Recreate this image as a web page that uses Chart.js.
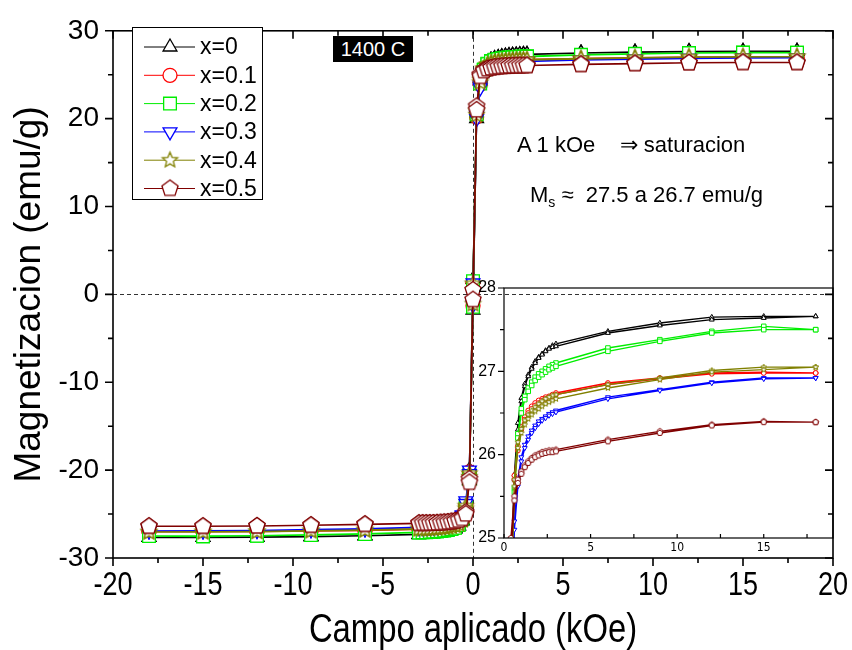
<!DOCTYPE html>
<html>
<head>
<meta charset="utf-8">
<script src="https://cdn.jsdelivr.net/npm/chart.js@4.4.0/dist/chart.umd.min.js"></script>
<style>
  body { margin: 0; background: #fff; }
  #wrap { position: relative; width: 852px; height: 650px; font-family: 'Liberation Sans', Arial, sans-serif; }
  #main { position: absolute; left: 0; top: 0; }
  #inset { position: absolute; left: 450px; top: 270px; }
  .tag { position: absolute; left: 333px; top: 36px; width: 80px; height: 26px; background: #000; color: #fff;
         font-size: 20px; line-height: 26px; text-align: center; }
  .note { position: absolute; font-size: 22px; line-height: 26px; color: #000; white-space: nowrap; }
  .note sub { font-size: 14px; }
</style>
</head>
<body>
<div id="wrap">
  <canvas id="main" width="852" height="650"></canvas>
  <canvas id="inset" width="402" height="290"></canvas>
  <div class="tag">1400 C</div>
  <div class="note" style="left:517px; top:132px;">A 1 kOe &nbsp;&nbsp; ⇒ saturacion</div>
  <div class="note" style="left:530px; top:182px;">M<sub>s</sub> ≈ &nbsp;27.5 a 26.7 emu/g</div>
</div>
<script>
// field values (kOe), descending branch 18 -> -18 and ascending branch -18 -> 18
const fieldDown = [18, 15, 12, 9, 6, 3, 2.8, 2.6, 2.4, 2.2, 2, 1.8, 1.6, 1.4, 1.2, 1, 0.8, 0.6, 0.4, 0.2, 0,
  -0.2, -0.4, -0.6, -0.8, -1, -1.2, -1.4, -1.6, -1.8, -2, -2.2, -2.4, -2.6, -2.8, -3, -6, -9, -12, -15, -18];
const fieldUp = [-18, -15, -12, -9, -6, -3, -2.8, -2.6, -2.4, -2.2, -2, -1.8, -1.6, -1.4, -1.2, -1, -0.8, -0.6, -0.4, -0.2, 0,
  0.2, 0.4, 0.6, 0.8, 1, 1.2, 1.4, 1.6, 1.8, 2, 2.2, 2.4, 2.6, 2.8, 3, 6, 9, 12, 15, 18];

const seriesNames = ['x=0', 'x=0.1', 'x=0.2', 'x=0.3', 'x=0.4', 'x=0.5'];

// magnetization (emu/g)
const downX0 = [27.66, 27.66, 27.65, 27.58, 27.48, 27.33, 27.31, 27.28, 27.25, 27.21, 27.17, 27.12, 27.05, 26.96, 26.85, 26.68, 26.38, 25.76, 24.6, 21.2, 1.7,
  -20.0, -24.3, -25.70, -26.30, -26.64, -26.82, -26.94, -27.03, -27.10, -27.16, -27.20, -27.24, -27.27, -27.29, -27.30, -27.46, -27.55, -27.62, -27.64, -27.66];
const upX0 = [-27.66, -27.66, -27.65, -27.58, -27.48, -27.33, -27.31, -27.28, -27.25, -27.21, -27.17, -27.12, -27.05, -26.96, -26.85, -26.68, -26.38, -25.76, -24.6, -21.2, -1.8,
  20.0, 24.3, 25.70, 26.30, 26.64, 26.82, 26.94, 27.03, 27.10, 27.16, 27.20, 27.24, 27.27, 27.29, 27.30, 27.46, 27.55, 27.62, 27.64, 27.66];

const downX01 = [26.98, 26.99, 26.98, 26.92, 26.86, 26.74, 26.72, 26.70, 26.69, 26.67, 26.65, 26.62, 26.58, 26.53, 26.45, 26.33, 26.10, 25.75, 24.2, 20.6, 1.4,
  -20.2, -23.9, -25.70, -26.05, -26.30, -26.42, -26.50, -26.55, -26.59, -26.62, -26.65, -26.67, -26.68, -26.70, -26.72, -26.84, -26.91, -26.97, -26.98, -26.98];
const upX01 = [-26.98, -26.99, -26.98, -26.92, -26.86, -26.74, -26.72, -26.70, -26.69, -26.67, -26.65, -26.62, -26.58, -26.53, -26.45, -26.33, -26.10, -25.75, -24.2, -20.6, -1.3,
  20.2, 23.9, 25.70, 26.05, 26.30, 26.42, 26.50, 26.55, 26.59, 26.62, 26.65, 26.67, 26.68, 26.70, 26.72, 26.84, 26.91, 26.97, 26.98, 26.98];

const downX02 = [27.50, 27.54, 27.48, 27.38, 27.28, 27.10, 27.08, 27.06, 27.03, 27.00, 26.97, 26.93, 26.87, 26.80, 26.70, 26.55, 26.25, 25.60, 24.3, 21.0, 1.5,
  -20.5, -24.0, -25.55, -26.20, -26.50, -26.66, -26.76, -26.83, -26.89, -26.93, -26.96, -26.99, -27.02, -27.04, -27.06, -27.24, -27.36, -27.46, -27.50, -27.50];
const upX02 = [-27.50, -27.54, -27.48, -27.38, -27.28, -27.10, -27.08, -27.06, -27.03, -27.00, -26.97, -26.93, -26.87, -26.80, -26.70, -26.55, -26.25, -25.60, -24.3, -21.0, -1.4,
  20.5, 24.0, 25.55, 26.20, 26.50, 26.66, 26.76, 26.83, 26.89, 26.93, 26.96, 26.99, 27.02, 27.04, 27.06, 27.24, 27.36, 27.46, 27.50, 27.50];

const downX03 = [26.92, 26.92, 26.87, 26.78, 26.69, 26.53, 26.51, 26.49, 26.46, 26.43, 26.40, 26.35, 26.29, 26.22, 26.12, 25.97, 25.70, 25.20, 23.8, 20.4, 1.3,
  -20.0, -23.5, -25.10, -25.62, -25.92, -26.08, -26.18, -26.26, -26.32, -26.37, -26.41, -26.44, -26.47, -26.49, -26.51, -26.67, -26.77, -26.86, -26.91, -26.92];
const upX03 = [-26.92, -26.92, -26.87, -26.78, -26.69, -26.53, -26.51, -26.49, -26.46, -26.43, -26.40, -26.35, -26.29, -26.22, -26.12, -25.97, -25.70, -25.20, -23.8, -20.4, -1.2,
  20.0, 23.5, 25.10, 25.62, 25.92, 26.08, 26.18, 26.26, 26.32, 26.37, 26.41, 26.44, 26.47, 26.49, 26.51, 26.67, 26.77, 26.86, 26.91, 26.92];

const downX04 = [27.05, 27.05, 27.01, 26.92, 26.84, 26.72, 26.71, 26.69, 26.67, 26.64, 26.61, 26.57, 26.53, 26.48, 26.41, 26.31, 26.15, 25.70, 24.4, 20.8, 1.2,
  -20.4, -24.1, -25.62, -26.08, -26.26, -26.36, -26.43, -26.48, -26.52, -26.55, -26.58, -26.61, -26.63, -26.65, -26.67, -26.80, -26.90, -26.99, -27.02, -27.05];
const upX04 = [-27.05, -27.05, -27.01, -26.92, -26.84, -26.72, -26.71, -26.69, -26.67, -26.64, -26.61, -26.57, -26.53, -26.48, -26.41, -26.31, -26.15, -25.70, -24.4, -20.8, -1.1,
  20.4, 24.1, 25.62, 26.08, 26.26, 26.36, 26.43, 26.48, 26.52, 26.55, 26.58, 26.61, 26.63, 26.65, 26.67, 26.80, 26.90, 26.99, 27.02, 27.05];

const downX05 = [26.39, 26.40, 26.36, 26.28, 26.18, 26.06, 26.05, 26.05, 26.04, 26.03, 26.01, 25.99, 25.96, 25.92, 25.87, 25.80, 25.70, 25.50, 25.0, 21.4, 0.5,
  -21.0, -24.8, -25.45, -25.66, -25.77, -25.85, -25.90, -25.94, -25.97, -25.99, -26.01, -26.02, -26.03, -26.03, -26.04, -26.16, -26.26, -26.35, -26.39, -26.39];
const upX05 = [-26.39, -26.40, -26.36, -26.28, -26.18, -26.06, -26.05, -26.05, -26.04, -26.03, -26.01, -25.99, -25.96, -25.92, -25.87, -25.80, -25.70, -25.50, -25.0, -21.4, -0.6,
  21.0, 24.8, 25.45, 25.66, 25.77, 25.85, 25.90, 25.94, 25.97, 25.99, 26.01, 26.02, 26.03, 26.03, 26.04, 26.16, 26.26, 26.35, 26.39, 26.39];

const branches = [[downX0, upX0], [downX01, upX01], [downX02, upX02], [downX03, upX03], [downX04, upX04], [downX05, upX05]];

const SANS = "'Liberation Sans', Arial, sans-serif";
const NARROW = "'Liberation Sans Narrow', 'DejaVu Sans Condensed', sans-serif";

// look of each series: colour, marker, marker size in main plot and in inset
const looks = [
  { color: '#000000', shape: 'triangle', r: 8, ri: 2.8 },
  { color: '#ff0000', shape: 'circle', r: 7, ri: 2.4 },
  { color: '#00ee00', shape: 'rect', r: 9, ri: 3.2 },
  { color: '#0000ff', shape: 'triangle', rot: 180, r: 8, ri: 2.8 },
  { color: '#808000', shape: 'star', r: 8, ri: 3 },
  { color: '#800000', shape: 'pentagon', r: 8.5, ri: 3 }
];

// star and pentagon are not built in, draw them on small canvases
function shapeCanvas(kind, r, color, lw) {
  const s = Math.ceil(2 * r + lw * 2 + 2);
  const c = document.createElement('canvas');
  c.width = c.height = s;
  const g = c.getContext('2d');
  const n = kind === 'star' ? 10 : 5;
  g.beginPath();
  for (let k = 0; k < n; k++) {
    const a = -Math.PI / 2 + k * 2 * Math.PI / n;
    const rr = (kind === 'star' && k % 2) ? r * 0.45 : r;
    const px = s / 2 + rr * Math.cos(a), py = s / 2 + rr * Math.sin(a);
    if (k) g.lineTo(px, py); else g.moveTo(px, py);
  }
  g.closePath();
  g.fillStyle = '#fff';
  g.fill();
  g.strokeStyle = color;
  g.lineWidth = lw;
  g.stroke();
  return c;
}

function pointStyleFor(look, r, lw) {
  if (look.shape === 'star' || look.shape === 'pentagon') return shapeCanvas(look.shape, r, look.color, lw);
  return look.shape;
}

function loopPoints(down, up) {
  const pts = fieldDown.map((h, i) => ({ x: h, y: down[i] }));
  return pts.concat(fieldUp.map((h, i) => ({ x: h, y: up[i] })));
}

function makeSets(small) {
  return branches.map((b, i) => {
    const lk = looks[i];
    const r = small ? lk.ri : lk.r;
    const lw = small ? 1 : 1.3;
    return {
      label: seriesNames[i],
      data: loopPoints(b[0], b[1]),
      borderColor: lk.color,
      backgroundColor: '#fff',
      borderWidth: small ? 1.4 : 1.5,
      pointStyle: pointStyleFor(lk, r, lw),
      pointRadius: r,
      pointRotation: lk.rot || 0,
      pointBorderWidth: lw,
      pointBorderColor: lk.color,
      pointBackgroundColor: '#fff',
      tension: 0,
      order: 5 - i
    };
  });
}

// condensed text (like Arial Narrow) by squeezing Liberation Sans
function narrowText(ctx, text, x, y, size) {
  ctx.save();
  ctx.translate(x, y);
  ctx.scale(0.82, 1);
  ctx.font = size + 'px ' + SANS;
  ctx.textAlign = 'center';
  ctx.textBaseline = 'middle';
  ctx.fillStyle = '#000';
  ctx.fillText(text, 0, 0);
  ctx.restore();
}

const mainDecor = {
  id: 'mainDecor',
  beforeDatasetsDraw(chart) {
    const { ctx, chartArea: a, scales: { x, y } } = chart;
    const x0 = Math.round(x.getPixelForValue(0)) + 0.5;
    const y0 = Math.round(y.getPixelForValue(0)) + 0.5;
    ctx.save();
    ctx.setLineDash([4, 3]);
    ctx.strokeStyle = '#333';
    ctx.lineWidth = 1;
    ctx.beginPath();
    ctx.moveTo(x0, a.top); ctx.lineTo(x0, a.bottom);
    ctx.moveTo(a.left, y0); ctx.lineTo(a.right, y0);
    ctx.stroke();
    ctx.restore();
  },
  afterDraw(chart) {
    const { ctx, chartArea: a, scales: { x, y } } = chart;
    ctx.save();
    ctx.strokeStyle = '#000';
    ctx.lineWidth = 1.6;
    ctx.strokeRect(a.left, a.top, a.right - a.left, a.bottom - a.top);
    ctx.beginPath();
    for (let v = -20; v <= 20; v += 2.5) {
      const p = x.getPixelForValue(v);
      const len = v % 5 === 0 ? 8 : 5;
      ctx.moveTo(p, a.bottom); ctx.lineTo(p, a.bottom + len);
      ctx.moveTo(p, a.top); ctx.lineTo(p, a.top + len);
    }
    for (let v = -30; v <= 30; v += 5) {
      const p = y.getPixelForValue(v);
      const len = v % 10 === 0 ? 8 : 5;
      ctx.moveTo(a.left - len, p); ctx.lineTo(a.left, p);
      ctx.moveTo(a.right, p); ctx.lineTo(a.right - len, p);
    }
    ctx.stroke();

    // x tick labels and title in a narrow face
    x.ticks.forEach(t => narrowText(ctx, String(t.value), x.getPixelForValue(t.value), a.bottom + 28, 33));
    narrowText(ctx, 'Campo aplicado (kOe)', (a.left + a.right) / 2, 631, 40);

    // legend box
    const bx = 132.5, by = 27.5, bw = 130, bh = 172;
    ctx.fillStyle = '#fff';
    ctx.fillRect(bx, by, bw, bh);
    ctx.lineWidth = 1;
    ctx.strokeRect(bx, by, bw, bh);
    ctx.font = '23px ' + SANS;
    ctx.textBaseline = 'middle';
    chart.data.datasets.forEach((ds, i) => {
      const ly = 47 + i * 28.3;
      ctx.strokeStyle = ds.borderColor;
      ctx.lineWidth = 1;
      ctx.beginPath();
      ctx.moveTo(144, ly); ctx.lineTo(195, ly);
      ctx.stroke();
      ctx.fillStyle = '#fff';
      ctx.lineWidth = ds.pointBorderWidth;
      Chart.helpers.drawPoint(ctx, { pointStyle: ds.pointStyle, rotation: ds.pointRotation, radius: ds.pointRadius, borderWidth: ds.pointBorderWidth }, 170, ly);
      ctx.fillStyle = '#000';
      ctx.fillText(ds.label, 200, ly + 1);
    });
    ctx.restore();
  }
};

const insetDecor = {
  id: 'insetDecor',
  afterDraw(chart) {
    const { ctx, chartArea: a, scales: { x, y } } = chart;
    ctx.save();
    ctx.strokeStyle = '#000';
    ctx.lineWidth = 1.2;
    ctx.strokeRect(a.left, a.top, a.right - a.left, a.bottom - a.top);
    ctx.beginPath();
    for (let v = 25; v <= 28.001; v += 0.5) {
      const p = y.getPixelForValue(v);
      const len = Number.isInteger(v) ? 6 : 4;
      ctx.moveTo(a.left - len, p); ctx.lineTo(a.left, p);
    }
    for (let v = 0; v <= 19; v += 2.5) {
      const p = x.getPixelForValue(v);
      ctx.moveTo(p, a.bottom); ctx.lineTo(p, a.bottom - 4);
    }
    ctx.stroke();
    ctx.restore();
  }
};

const hiddenGrid = { display: false, drawTicks: false };

new Chart(document.getElementById('main'), {
  type: 'line',
  data: { datasets: makeSets(false) },
  options: {
    responsive: false,
    animation: false,
    devicePixelRatio: 1,
    layout: { padding: { top: 24, right: 19, left: 0, bottom: 0 } },
    plugins: { legend: { display: false }, tooltip: { enabled: false } },
    scales: {
      x: {
        type: 'linear', min: -20, max: 20,
        grid: hiddenGrid, border: { display: false },
        ticks: { stepSize: 5, display: false },
        afterFit(s) { s.height = 92; s.paddingLeft = 0; s.paddingRight = 0; }
      },
      y: {
        type: 'linear', min: -30, max: 30,
        grid: hiddenGrid, border: { display: false },
        ticks: { stepSize: 10, font: { family: SANS, size: 28 }, color: '#000', padding: 14 },
        title: { display: true, text: 'Magnetizacion (emu/g)', color: '#000',
                 font: { family: SANS, size: 37, lineHeight: 1 }, padding: { top: 11, bottom: 0 } },
        afterFit(s) { s.width = 113; }
      }
    }
  },
  plugins: [mainDecor]
});

new Chart(document.getElementById('inset'), {
  type: 'line',
  data: { datasets: makeSets(true) },
  options: {
    responsive: false,
    animation: false,
    devicePixelRatio: 1,
    layout: { padding: { top: 18, right: 19, left: 0, bottom: 0 } },
    plugins: { legend: { display: false }, tooltip: { enabled: false } },
    scales: {
      x: {
        type: 'linear', min: 0, max: 19,
        grid: hiddenGrid, border: { display: false },
        ticks: { stepSize: 5, includeBounds: false, font: { family: NARROW, size: 12 }, color: '#000', padding: 3, maxRotation: 0 },
        afterFit(s) { s.height = 22; }
      },
      y: {
        type: 'linear', min: 25, max: 28,
        grid: hiddenGrid, border: { display: false },
        ticks: { stepSize: 1, includeBounds: false, font: { family: SANS, size: 16 }, color: '#000', padding: 8 },
        afterFit(s) { s.width = 54; }
      }
    }
  },
  plugins: [insetDecor]
});
</script>
</body>
</html>
